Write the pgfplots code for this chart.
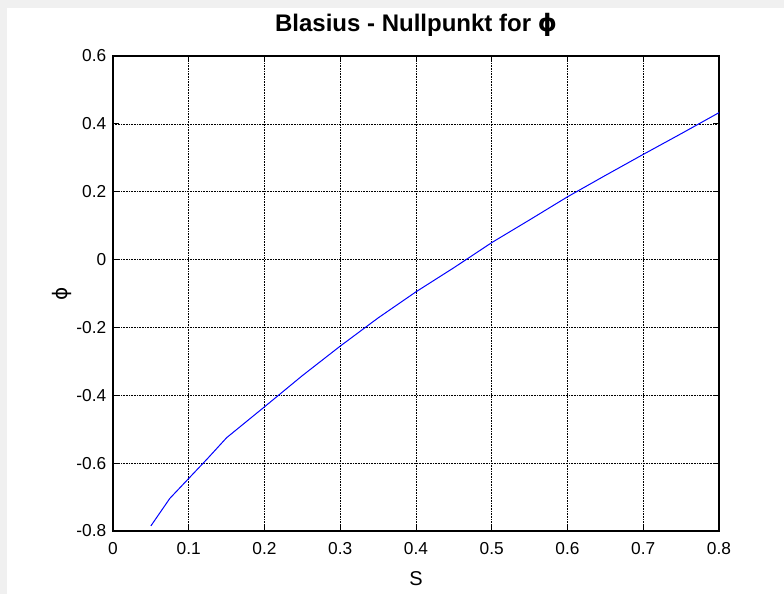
\documentclass[border=0pt]{standalone}
\usepackage{fontspec}
\setmainfont{Liberation Sans}
\newfontfamily\dejavu{DejaVu Sans}
\usepackage{pgfplots}
\pgfplotsset{compat=1.18}
\definecolor{figgray}{RGB}{240,240,240}
\begin{document}
\begin{tikzpicture}
\fill[figgray] (-113pt,-63pt) rectangle (671pt,531pt);
\fill[white] (-106pt,-63pt) rectangle (671pt,523pt);
\begin{axis}[
  at={(0pt,0pt)}, anchor=south west,
  scale only axis, width=606pt, height=475pt,
  xmin=0, xmax=0.8, ymin=-0.8, ymax=0.6,
  xtick={0,0.1,0.2,0.3,0.4,0.5,0.6,0.7,0.8},
  xticklabels={0,0.1,0.2,0.3,0.4,0.5,0.6,0.7,0.8},
  ytick={-0.8,-0.6,-0.4,-0.2,0,0.2,0.4,0.6},
  yticklabels={-0.8,-0.6,-0.4,-0.2,0,0.2,0.4,0.6},
  tick align=inside, major tick length=6pt,
  tick style={black, line width=0.8pt},
  axis line style={black, line width=1.2pt},
  grid=major,
  major grid style={black, line width=0.6pt, dash pattern=on 0.8pt off 0.8pt},
  ticklabel style={font=\fontsize{17.3}{20}\selectfont},
  xticklabel style={anchor=base, yshift=-23pt},
  yticklabel style={anchor=east, inner sep=0pt, xshift=-6.5pt},
  title={\bfseries Blasius - Nullpunkt for {\dejavu\bfseries ϕ}},
  title style={at={(axis description cs:0.5,1)}, anchor=base, yshift=19pt, font=\fontsize{24}{28}\selectfont},
  xlabel={S},
  xlabel style={at={(axis description cs:0.5,0)}, anchor=base, yshift=-54pt, font=\fontsize{20}{24}\selectfont},
  ylabel={{\dejavu ϕ}},
  ylabel style={at={(axis description cs:0,0.5)}, anchor=center, yshift=51pt, font=\fontsize{20}{24}\selectfont},
]
\addplot[color={rgb,255:red,0;green,0;blue,255}, line width=1pt] coordinates {
(0.05,-0.785)
(0.075,-0.704)
(0.1,-0.645)
(0.125,-0.586)
(0.15,-0.525)
(0.2,-0.434)
(0.25,-0.342)
(0.3,-0.255)
(0.35,-0.172)
(0.4,-0.095)
(0.45,-0.024)
(0.5,0.050)
(0.55,0.117)
(0.6,0.185)
(0.65,0.248)
(0.7,0.310)
(0.75,0.371)
(0.8,0.433)
};
\end{axis}
\end{tikzpicture}
\end{document}
